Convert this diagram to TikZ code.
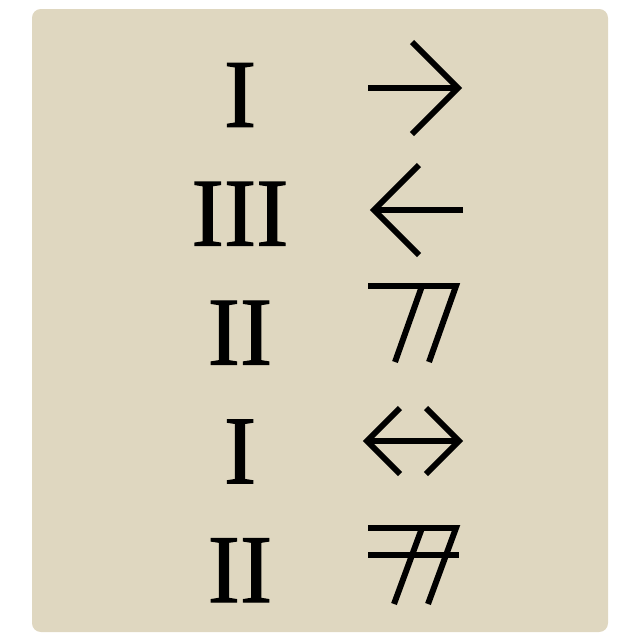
\documentclass[tikz,border=0pt]{standalone}
\usepackage{fontspec}
\setmainfont{Liberation Serif}
\newfontfamily\numfont[FakeBold=1.2]{Liberation Serif}
\usetikzlibrary{positioning}
\definecolor{paper}{RGB}{223,215,192}
\tikzstyle{numeral} = [font=\numfont\fontsize{69}{69}\selectfont, inner sep=0pt, text=black]
\tikzstyle{glyph} = [line width=4.25pt, line join=miter, line cap=butt, draw=black]

\begin{document}
\begin{tikzpicture}[x=0.025cm, y=-0.025cm, node distance=2.97cm]

\useasboundingbox (0,0) rectangle (640,640);
\fill [paper, rounded corners=0.22cm] (32,9) rectangle (608,632);

% left column
\node (n1) [numeral] at (240,95) {I};
\node (n2) [numeral, below of=n1] {III};
\node (n3) [numeral, below of=n2] {II};
\node (n4) [numeral, below of=n3] {I};
\node (n5) [numeral, below of=n4] {II};

% right column
\draw [glyph] (368,88) -- (458,88);
\draw [glyph] (412,42) -- (458,88) -- (412,134);
\draw [glyph] (463,210) -- (374,210);
\draw [glyph] (419,165) -- (374,210) -- (419,255);
\draw [glyph] (368,286) -- (456,286) -- (429,362);
\draw [glyph] (422,286) -- (395,362);
\draw [glyph] (367,441) -- (459,441);
\draw [glyph] (400,408) -- (367,441) -- (400,474);
\draw [glyph] (426,408) -- (459,441) -- (426,474);
\draw [glyph] (368,528) -- (456,528) -- (428,604);
\draw [glyph] (422,528) -- (394,604);
\draw [glyph] (368,555) -- (459,555);

\end{tikzpicture}
\end{document}
